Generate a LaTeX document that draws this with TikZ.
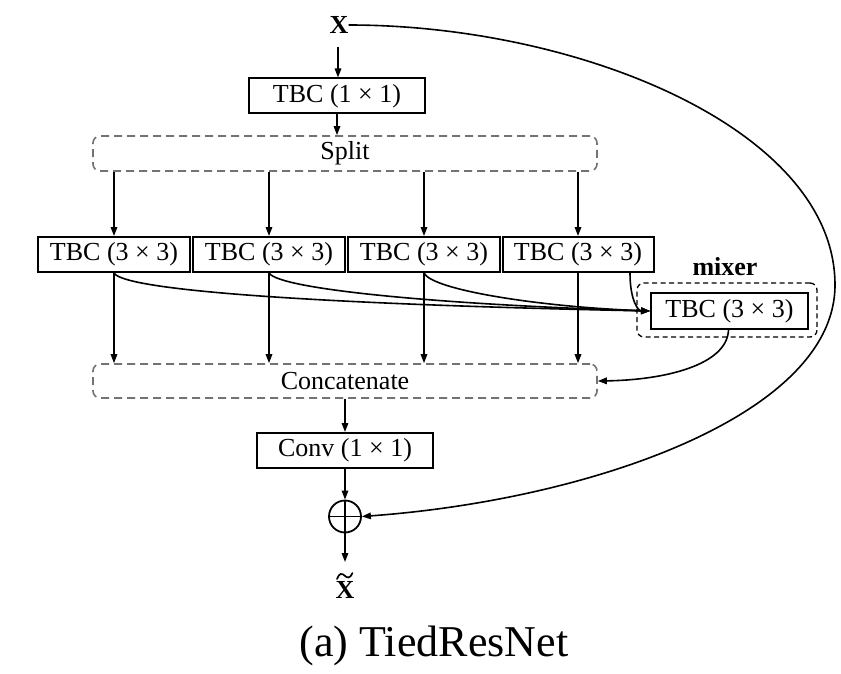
\documentclass[tikz,border=0pt]{standalone}
\usepackage{fontspec}
\setmainfont{Liberation Serif}
\usetikzlibrary{arrows.meta}
\begin{document}
\begin{tikzpicture}[x=1pt,y=-1pt,
  every node/.style={inner sep=0pt,font=\fontsize{26}{29}\selectfont},
  blk/.style={draw,line width=2pt,minimum height=35pt,align=center},
  grp/.style={draw=black!55,dash pattern=on 8pt off 5pt,line width=1.6pt,rounded corners=7pt,minimum width=504pt,minimum height=35pt},
  arr/.style={line width=1.6pt,-{Triangle[length=9pt,width=6.5pt]}},
  con/.style={line width=1.6pt}]
\useasboundingbox (0,0) rectangle (841,674);
\node (x) at (339,25) {\textbf{X}};
\coordinate (xs) at (338,47);
\node[blk,minimum width=176pt] (t1) at (337,96) {TBC (1 × 1)};
\node[grp] (split) at (345,153.5) {Split};
\node[blk,minimum width=152pt] (b1) at (114,254.5) {TBC (3 × 3)};
\node[blk,minimum width=152pt] (b2) at (269,254.5) {TBC (3 × 3)};
\node[blk,minimum width=152pt] (b3) at (424,254.5) {TBC (3 × 3)};
\node[blk,minimum width=151pt] (b4) at (578,254.5) {TBC (3 × 3)};
\node[blk,minimum width=157pt,minimum height=36pt] (m) at (729.5,311) {TBC (3 × 3)};
\node[draw,dash pattern=on 5pt off 3.5pt,line width=1.3pt,rounded corners=7pt,minimum width=180pt,minimum height=54pt] (mbox) at (727,310) {};
\node (ml) at (725,267) {\textbf{mixer}};
\node[grp,minimum height=34pt] (cat) at (345,381) {Concatenate};
\node[blk,minimum width=176pt] (cv) at (345,450.5) {Conv (1 × 1)};
\node[draw,circle,line width=1.8pt,minimum size=32pt] (op) at (345,516.5) {};
\draw[line width=1.8pt] (op.north) -- (op.south) (op.west) -- (op.east);
\coordinate (ye) at (345,562);
\node (xt) at (345,590) {\textbf{X}};
% wide tilde over X
\draw[line width=1.7pt,line cap=round] (337,579) .. controls (339,573) and (342,573) .. (344.5,575.5)
  .. controls (347,578) and (350,579) .. (352.5,573);
\node[font=\fontsize{44}{50}\selectfont] (cap) at (434,646) {(a) TiedResNet};
% arrows
\draw[arr] (xs) -- (xs |- t1.north);
\draw[arr] (t1.south) -- (t1.south |- split.north);
\foreach \b in {b1,b2,b3,b4}{
  \draw[arr] (\b.north |- split.south) -- (\b.north);
  \draw[arr] (\b.south) -- (\b.south |- cat.north);
}
\draw[arr] (b1.south) .. controls (125,292) and (350,305) .. (m.west);
\draw[arr] (b2.south) .. controls (280,290) and (450,305) .. (m.west);
\draw[arr] (b3.south) .. controls (432,290) and (540,307) .. (m.west);
\draw[arr] ([xshift=52pt]b4.south) .. controls (630,300) and (638,311) .. (m.west);
\draw[arr] ([xshift=-1pt]m.south) .. controls (727,365) and (665,380) .. (cat.east);
\draw[arr] (cat.south) -- (cv.north);
\draw[arr] (cv.south) -- (op.north);
\draw[arr] (op.south) -- (ye);
\draw[arr] (x.east) .. controls (580,25) and (835,130) .. (835,285)
  .. controls (835,415) and (590,500) .. (op.east);
\end{tikzpicture}
\end{document}
